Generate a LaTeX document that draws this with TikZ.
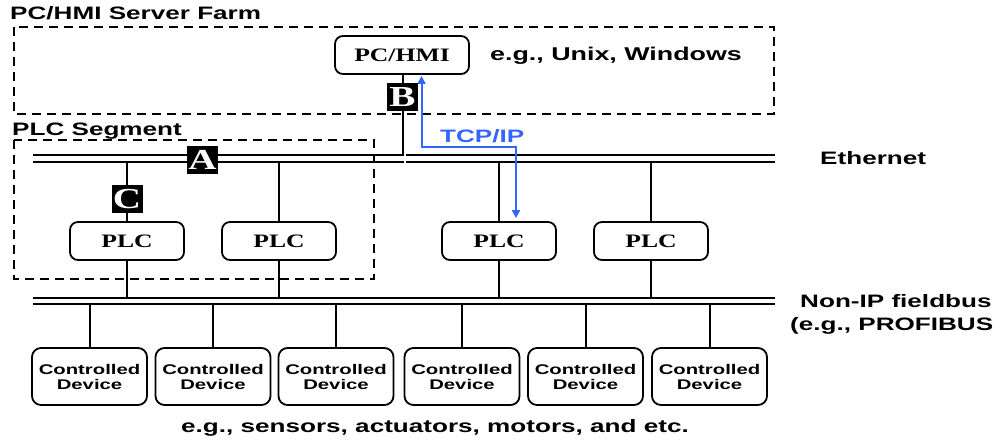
\documentclass[tikz,border=0pt]{standalone}
\usepackage{fontspec}
\usetikzlibrary{arrows.meta}
\newfontfamily\wsans[FakeStretch=1.45]{Liberation Sans}
\newfontfamily\wserif[FakeStretch=1.35]{Liberation Serif}
\definecolor{tcpblue}{RGB}{51,102,255}
\tikzset{
  lbl/.style={inner sep=0pt, font=\wsans\bfseries\fontsize{18}{20}\selectfont},
  unit/.style={draw, rounded corners=8pt, line width=1.8pt, inner sep=0pt,
               font=\wserif\bfseries\fontsize{19}{20}\selectfont},
  device/.style={draw, rounded corners=9pt, line width=1.8pt, inner sep=0pt,
                 minimum width=115pt, minimum height=57pt, align=center,
                 font=\wsans\bfseries\fontsize{14}{15}\selectfont},
  tag/.style={fill=black, text=white, inner sep=0pt, minimum width=31pt,
              minimum height=28pt, font=\wserif\bfseries\fontsize{29}{29}\selectfont},
  zone/.style={draw, line width=1.8pt, dash pattern=on 9pt off 6pt},
  bus/.style={line width=2pt},
  wire/.style={line width=2pt},
  tcp/.style={draw=tcpblue, line width=2pt,
              {Triangle[width=8pt,length=8pt]}-{Triangle[width=8pt,length=8pt]}}
}
\begin{document}
\begin{tikzpicture}[x=1pt,y=-1pt]
\useasboundingbox (0,0) rectangle (1000,439);

% dashed zones
\draw[zone] (14,27) rectangle (774,114);
\draw[zone] (14,140) rectangle (374,279);
\node[lbl, anchor=base west] (farm) at (10,19.5) {PC/HMI Server Farm};
\node[lbl, anchor=base west] (seg) at (12,135) {PLC Segment};

% PC/HMI
\node[unit, minimum width=134pt, minimum height=38pt] (pc) at (402,55) {PC/HMI};
\node[lbl, anchor=base west, font=\wsans\bfseries\fontsize{18.5}{20}\selectfont] (os) at (490,60) {e.g., Unix, Windows};

% Ethernet bus
\coordinate (eL1) at (33,155);    \coordinate (eR1) at (403.5,155);
\coordinate (eL2) at (405.5,155); \coordinate (eR2) at (775,155);
\coordinate (fL1) at (33,161.5);    \coordinate (fR1) at (403.5,161.5);
\coordinate (fL2) at (405.5,161.5); \coordinate (fR2) at (775,161.5);
\draw[bus] (eL1) -- (eR1) (eL2) -- (eR2);
\draw[bus] (fL1) -- (fR1) (fL2) -- (fR2);
\node[lbl, anchor=base west] (eth) at (820,164) {Ethernet};

% fieldbus
\coordinate (gL) at (33,298);  \coordinate (gR) at (775,298);
\coordinate (hL) at (33,304);  \coordinate (hR) at (775,304);
\draw[bus] (gL) -- (gR);
\draw[bus] (hL) -- (hR);
\node[lbl, anchor=base west] (fb1) at (800,307) {Non-IP fieldbus};
\node[lbl, anchor=base west] (fb2) at (790,330) {(e.g., PROFIBUS};

% PLCs
\foreach \i/\x in {1/127,2/279,3/499,4/651}{
  \node[unit, minimum width=114pt, minimum height=38pt] (plc\i) at (\x,241) {PLC};
  \coordinate (up\i) at (\x,161.5);
  \coordinate (dn\i) at (\x,298);
  \draw[wire] (up\i) -- (plc\i.north);
  \draw[wire] (plc\i.south) -- (dn\i);
}

% controlled devices
\foreach \i/\x in {1/89.5,2/213,3/336,4/462,5/585.5,6/709.5}{
  \node[device] (dev\i) at (\x,376.5) {Controlled\\Device};
  \coordinate (fd\i) at (\x,304);
  \draw[wire] (fd\i) -- (dev\i.north);
}
\node[lbl, anchor=base] (examples) at (435,432) {e.g., sensors, actuators, motors, and etc.};

% PC/HMI uplink
\coordinate (pcdrop) at (402.5,155);
\draw[wire] (pc.south -| pcdrop) -- (pcdrop);

% TCP/IP path
\coordinate (t1) at (421.5,147);
\coordinate (t2) at (516,147);
\draw[tcp, shorten <=1pt, shorten >=3pt] (pc.south -| t1) -- (t1) -- (t2) -- (t2 |- plc3.north);
\node[lbl, text=tcpblue, anchor=base west] (tcplbl) at (440,142) {TCP/IP};

% access tags
\node[tag] (A) at (202.5,160) {A};
\node[tag] (B) at (402.5,97) {B};
\node[tag] (C) at (127,199) {C};
\end{tikzpicture}
\end{document}
